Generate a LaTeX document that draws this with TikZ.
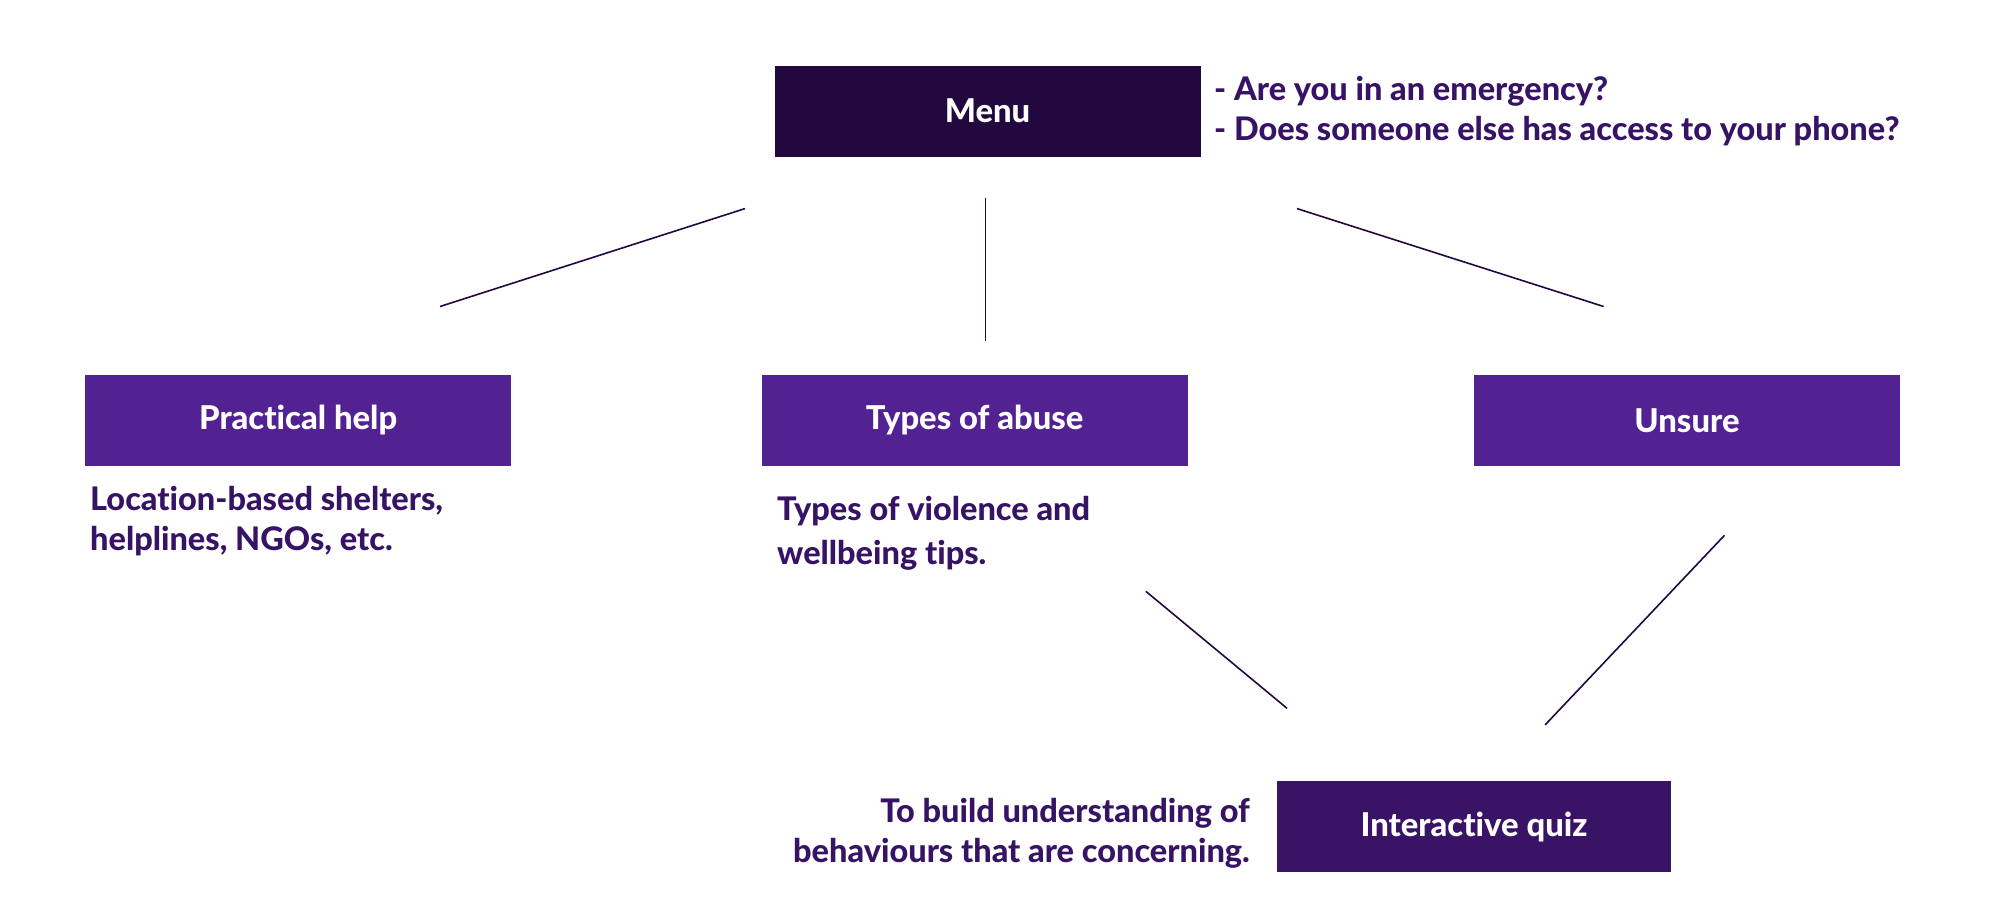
\documentclass[tikz,border=0pt]{standalone}
\usepackage{fontspec}
\setmainfont{Lato}[UprightFont=* Heavy, RawFeature=-liga]
\definecolor{menuc}{HTML}{22083F}
\definecolor{midc}{HTML}{522192}
\definecolor{quizc}{HTML}{391466}
\definecolor{txtc}{HTML}{371365}
\definecolor{linec}{HTML}{22083F}
\begin{document}
\begin{tikzpicture}[x=1pt,y=-1pt,
  box/.style={rectangle, inner sep=0pt, minimum width=426pt, minimum height=91pt,
    text=white, font=\fontsize{32.8}{38}\selectfont},
  note/.style={text=txtc, inner sep=0pt, align=left, font=\fontsize{32.5}{40}\selectfont},
  link/.style={draw=linec, line width=1.6pt}]
\useasboundingbox (0,0) rectangle (1994,918);
% boxes
\node[box, fill=menuc] (menu) at (987.5,111) {Menu};
\node[box, fill=midc] (prac) at (298.2,420.3) {Practical help};
\node[box, fill=midc] (types) at (974.7,420.3) {Types of abuse};
\node[box, fill=midc] (unsure) at (1687,420.3) {Unsure};
\node[box, fill=quizc, minimum width=394pt] (quiz) at (1474,826.6) {Interactive quiz};
% notes
\node[note, anchor=west] (menunote) at (1214,111) {- Are you in an emergency?\\- Does someone else has access to your phone?};
\node[note, anchor=north west] (pracnote) at (90,486) {Location-based shelters,\\helplines, NGOs, etc.};
\node[note, anchor=north west, font=\fontsize{32.5}{44}\selectfont] (typesnote) at (777,496) {Types of violence and\\wellbeing tips.};
\node[note, anchor=east, align=right] (quiznote) at (1250,833) {To build understanding of\\behaviours that are concerning.};
% connector end points
\coordinate (m1) at (745,208.6);
\coordinate (p1) at (440,306.5);
\coordinate (m2) at (985.6,198.4);
\coordinate (t1) at (985.6,340.8);
\coordinate (m3) at (1297,208.6);
\coordinate (u1) at (1603.6,306.5);
\coordinate (t2) at (1145.8,591.3);
\coordinate (q1) at (1287,708.3);
\coordinate (u2) at (1724.4,535.4);
\coordinate (q2) at (1545.1,724.9);
\draw[link] (m1) -- (p1);
\draw[link] (m2) -- (t1);
\draw[link] (m3) -- (u1);
\draw[link] (t2) -- (q1);
\draw[link] (u2) -- (q2);
\end{tikzpicture}
\end{document}
